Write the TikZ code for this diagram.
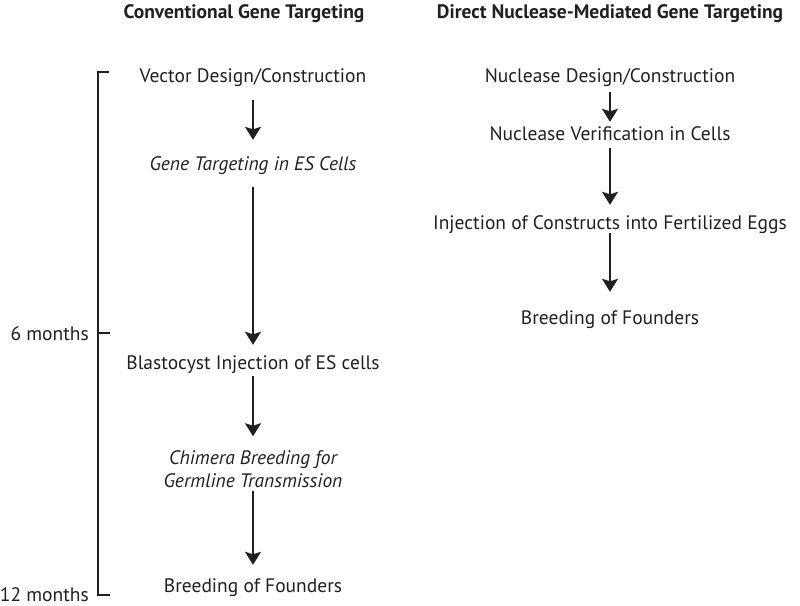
\documentclass[tikz,border=0pt]{standalone}
\usepackage{fontspec}
\setmainfont{PT Sans}
\usetikzlibrary{arrows.meta}
\definecolor{ink}{RGB}{35,31,32}
\begin{document}
\begin{tikzpicture}[x=1pt,y=-1pt,
  every node/.style={text=ink},
  txt/.style={inner sep=0pt,text height=13pt,text depth=4pt,anchor=base,font=\fontsize{19.5}{23}\selectfont},
  ttl/.style={inner sep=0pt,anchor=base,font=\fontsize{19.5}{23}\selectfont\bfseries},
  mon/.style={inner sep=0pt,anchor=base east,font=\fontsize{19.5}{23}\selectfont},
  flow/.style={draw=ink,line width=1.5pt,-{Stealth[length=13pt,width=16pt,inset=2.5pt]}},
  brk/.style={draw=ink,line width=1.3pt}]
\useasboundingbox (0,0) rectangle (800,605);
% titles
\node[ttl] (t1) at (244,18) {Conventional Gene Targeting};
\node[ttl] (t2) at (610,18) {Direct Nuclease-Mediated Gene Targeting};
% left column
\node[txt] (a1) at (253,82) {Vector Design/Construction};
\node[txt] (a2) at (253,170) {\itshape Gene Targeting in ES Cells};
\node[txt] (a3) at (253,369) {Blastocyst Injection of ES cells};
\node[inner sep=0pt,align=center,font=\fontsize{19.5}{23}\selectfont\itshape] (a4) at (253,469) {Chimera Breeding for\\Germline Transmission};
\node[txt] (a5) at (253,592) {Breeding of Founders};
\draw[flow,shorten <=14pt,shorten >=17pt] (a1.south) -- (a2.north);
\draw[flow,shorten <=13pt,shorten >=11pt] (a2.south) -- (a3.north);
\draw[flow,shorten <=3pt,shorten >=14pt] (a3.south) -- (a4.north);
\draw[flow,shorten <=3pt,shorten >=14pt] (a4.south) -- (a5.north);
% right column
\node[txt] (b1) at (610,82) {Nuclease Design/Construction};
\node[txt] (b2) at (610,140) {Nuclease Verification in Cells};
\node[txt] (b3) at (610,229) {Injection of Constructs into Fertilized Eggs};
\node[txt] (b4) at (610,324) {Breeding of Founders};
\draw[flow,shorten <=6pt,shorten >=5pt] (b1.south) -- (b2.north);
\draw[flow,shorten <=4pt,shorten >=11pt] (b2.south) -- (b3.north);
\draw[flow,shorten <=0pt,shorten >=19pt] (b3.south) -- (b4.north);
% timeline bracket
\coordinate (top) at (98,72);
\coordinate (mid) at (98,333);
\coordinate (bot) at (98,595);
\draw[brk] (109,72) -- (top) -- (bot) -- (110,595);
\draw[brk] (mid) -- (110,333);
\node[mon] (m6) at (89,340) {6 months};
\node[mon] (m12) at (89,601) {12 months};
\end{tikzpicture}
\end{document}
